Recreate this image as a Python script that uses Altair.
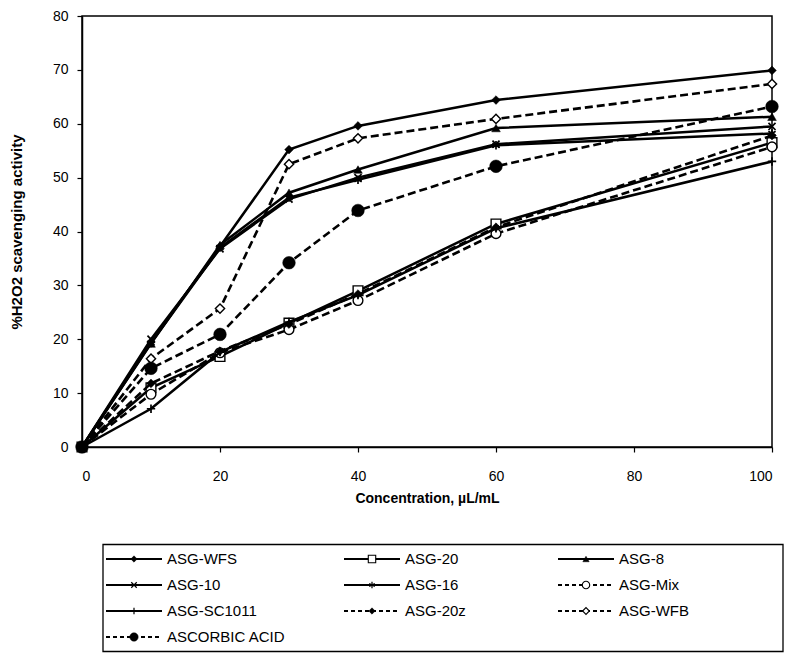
import altair as alt
import pandas as pd

# ---------------- data ----------------
conc = [0, 10, 20, 30, 40, 60, 100]
series_names = ["ASG-WFS", "ASG-20", "ASG-8", "ASG-10", "ASG-16",
                "ASG-Mix", "ASG-SC1011", "ASG-20z", "ASG-WFB", "ASCORBIC ACID"]
asg_wfs = [0, 19.5, 37.2, 55.2, 59.6, 64.4, 69.9]
asg_20 = [0, 11.0, 16.8, 23.0, 29.0, 41.4, 56.5]
asg_8 = [0, 19.2, 37.5, 47.2, 51.5, 59.2, 61.3]
asg_10 = [0, 20.0, 36.8, 46.0, 50.0, 56.2, 59.5]
asg_16 = [0, 19.3, 37.0, 46.3, 49.6, 56.0, 58.2]
asg_mix = [0, 9.8, 17.5, 21.8, 27.2, 39.6, 55.7]
asg_sc1011 = [0, 7.1, 17.6, 23.2, 28.2, 40.6, 53.0]
asg_20z = [0, 11.8, 17.8, 22.8, 28.4, 40.8, 57.8]
asg_wfb = [0, 16.4, 25.7, 52.5, 57.3, 60.9, 67.4]
ascorbic = [0, 14.6, 20.9, 34.2, 43.9, 52.1, 63.2]
all_values = [asg_wfs, asg_20, asg_8, asg_10, asg_16,
              asg_mix, asg_sc1011, asg_20z, asg_wfb, ascorbic]

x_ticks = [0, 20, 40, 60, 80, 100]
y_ticks = [0, 10, 20, 30, 40, 50, 60, 70, 80]

# ---------------- styles ----------------
X_PATH = "M-1,-1L1,1M-1,1L1,-1"
PLUS_PATH = "M-1,0L1,0M0,-1L0,1"
STAR_PATH = "M0,-1L0,1M-0.87,-0.5L0.87,0.5M-0.87,0.5L0.87,-0.5"
DASH = [8, 4]

# shape, fill mode ('black', 'white', 'none'), dashed, size (plot), size (legend)
styles = [
    ("diamond", "black", False, 75, 40),
    ("square", "white", False, 95, 55),
    ("triangle-up", "black", False, 75, 40),
    (X_PATH, "none", False, 50, 30),
    (STAR_PATH, "none", False, 70, 40),
    ("circle", "white", True, 95, 55),
    (PLUS_PATH, "none", False, 70, 40),
    ("diamond", "black", True, 75, 40),
    ("diamond", "white", True, 85, 45),
    ("circle", "black", True, 160, 70),
]

FONT = "Liberation Sans"

xenc = alt.X("conc:Q",
             scale=alt.Scale(domain=[0, 100], nice=False),
             axis=alt.Axis(values=x_ticks, title="Concentration, µL/mL",
                           grid=False, tickSize=5, labelPadding=17,
                           titlePadding=8, labelFontSize=14,
                           titleFontSize=14, titleFontWeight="bold",
                           labelFont=FONT, titleFont=FONT,
                           domainColor="black", tickColor="black",
                           labelColor="black", titleColor="black",
                           domainWidth=1.5, tickWidth=1.2))
yenc = alt.Y("value:Q",
             scale=alt.Scale(domain=[0, 80], nice=False),
             axis=alt.Axis(values=y_ticks, title="%H2O2 scavenging activity",
                           grid=False, tickSize=5, labelPadding=9,
                           titlePadding=28, labelFontSize=14,
                           titleFontSize=15, titleFontWeight="bold",
                           labelFont=FONT, titleFont=FONT,
                           domainColor="black", tickColor="black",
                           labelColor="black", titleColor="black",
                           domainWidth=1.5, tickWidth=1.2))

layers = []
for name, vals, st in zip(series_names, all_values, styles):
    shape, fillmode, dashed, size, _ = st
    df = pd.DataFrame({"conc": conc, "value": vals, "series": name})
    base = alt.Chart(df)
    line_kw = dict(color="black", strokeWidth=2.6 if dashed else 2.5)
    if dashed:
        line_kw["strokeDash"] = DASH
    layers.append(base.mark_line(**line_kw).encode(x=xenc, y=yenc))
    if fillmode == "none":
        pt = base.mark_point(shape=shape, filled=False, stroke="black",
                             strokeWidth=1.7, size=size, opacity=1)
    else:
        pt = base.mark_point(shape=shape, filled=True, fill=fillmode,
                             stroke="black", strokeWidth=1.4 if fillmode == "white" else 0.5,
                             size=size, opacity=1)
    layers.append(pt.encode(x=xenc, y=yenc))

plot = alt.layer(*layers).properties(width=690, height=431)

# ---------------- legend panel ----------------
LW, LH = 702, 108           # legend panel size (px units)
BOX_LEFT = 21               # box left offset from plot origin
COL_OFF = [3, 241, 455]     # column offsets inside box
ROW0, ROW_STEP = 15, 26
LINE_LEN = 56

lx = alt.Scale(domain=[0, LW], nice=False)
ly = alt.Scale(domain=[0, LH], nice=False, reverse=True)

leg_rows = []
for i, name in enumerate(series_names):
    col, row = i % 3, i // 3
    x0 = BOX_LEFT + COL_OFF[col]
    leg_rows.append({"series": name, "x0": x0, "x1": x0 + LINE_LEN,
                     "xm": x0 + LINE_LEN / 2, "xt": x0 + LINE_LEN + 5,
                     "y": ROW0 + row * ROW_STEP})
leg_df = pd.DataFrame(leg_rows)

leg_layers = []
box_df = pd.DataFrame({"bx0": [BOX_LEFT], "bx1": [LW - 1], "by0": [0.5], "by1": [LH - 0.5]})
leg_layers.append(alt.Chart(box_df).mark_rect(fill="white", stroke="black",
                                              strokeWidth=1.3).encode(
    x=alt.X("bx0:Q", scale=lx, axis=None), x2="bx1:Q",
    y=alt.Y("by0:Q", scale=ly, axis=None), y2="by1:Q"))

for i, (name, st) in enumerate(zip(series_names, styles)):
    shape, fillmode, dashed, _, lsize = st
    sub = leg_df.iloc[[i]]
    rk = dict(color="black", strokeWidth=1.8)
    if dashed:
        rk["strokeDash"] = [4, 3]
    leg_layers.append(alt.Chart(sub).mark_rule(**rk).encode(
        x=alt.X("x0:Q", scale=lx, axis=None), x2="x1:Q",
        y=alt.Y("y:Q", scale=ly, axis=None)))
    if fillmode == "none":
        pt = alt.Chart(sub).mark_point(shape=shape, filled=False, stroke="black",
                                       strokeWidth=1.2, size=lsize, opacity=1)
    else:
        pt = alt.Chart(sub).mark_point(shape=shape, filled=True, fill=fillmode,
                                       stroke="black", strokeWidth=1.1 if fillmode == "white" else 0.5,
                                       size=lsize, opacity=1)
    leg_layers.append(pt.encode(x=alt.X("xm:Q", scale=lx, axis=None),
                                y=alt.Y("y:Q", scale=ly, axis=None)))

leg_layers.append(alt.Chart(leg_df).mark_text(align="left", baseline="middle",
                                               font=FONT, fontSize=15,
                                               color="black").encode(
    x=alt.X("xt:Q", scale=lx, axis=None),
    y=alt.Y("y:Q", scale=ly, axis=None),
    text="series:N"))

legend = alt.layer(*leg_layers).properties(
    width=LW, height=LH, view=alt.ViewBackground(stroke="transparent"))

chart = alt.vconcat(plot, legend, spacing=37).properties(
    padding={"left": 0, "top": 0, "right": 0, "bottom": 0}
).configure_view(stroke="black", strokeWidth=1.5)

chart = chart.resolve_scale(x="independent", y="independent")

chart.save("out.html", embed_options={"renderer": "svg", "actions": False})
